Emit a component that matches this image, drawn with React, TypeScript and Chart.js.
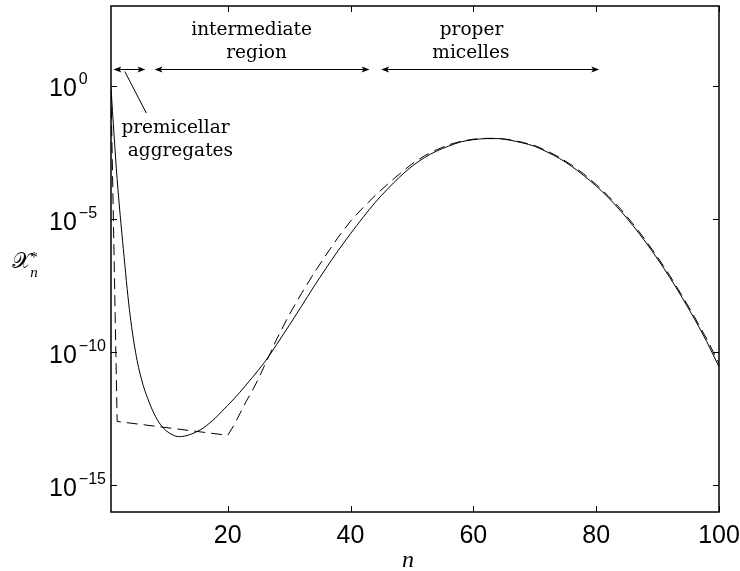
import { useEffect, useRef } from "react";
import { Chart, registerables } from "chart.js";

Chart.register(...registerables);

// ---- data (y given as log10 of X*_n) ----
const nSolid = [1, 2, 3, 4, 5, 6, 7, 8, 9, 10, 11, 12, 13, 14, 15, 16, 17, 18, 19, 20,
  22, 24, 26, 28, 30, 32, 34, 36, 38, 40, 42, 44, 46, 48, 50, 52, 54, 56, 58, 60,
  62, 64, 66, 68, 70, 72, 74, 76, 78, 80, 82, 84, 86, 88, 90, 92, 94, 96, 98, 100];
const solidLog10 = [-0.1, -3.5, -6.1, -8.4, -10.0, -11.05, -11.75, -12.3, -12.7, -12.95,
  -13.1, -13.17, -13.15, -13.08, -12.98, -12.85, -12.67, -12.47, -12.23, -12.0,
  -11.5, -10.95, -10.38, -9.7, -9.0, -8.28, -7.55, -6.85, -6.18, -5.55,
  -4.95, -4.38, -3.88, -3.42, -3.02, -2.7, -2.45, -2.26, -2.1, -2.02,
  -1.98, -1.98, -2.04, -2.14, -2.27, -2.48, -2.72, -3.02, -3.37, -3.76,
  -4.2, -4.7, -5.25, -5.85, -6.5, -7.2, -7.95, -8.75, -9.6, -10.55];

const nDashed = [1, 2, 20, 21, 22, 23, 24, 25, 26, 27, 28,
  30, 32, 34, 36, 38, 40, 42, 44, 46, 48, 50, 52, 54, 56, 58, 60,
  62, 64, 66, 68, 70, 72, 74, 76, 78, 80, 82, 84, 86, 88, 90, 92, 94, 96, 98, 100];
const dashedLog10 = [-0.2, -12.6, -13.12, -12.75, -12.3, -11.85, -11.45, -11.0, -10.5, -10.0, -9.5,
  -8.6, -7.8, -7.05, -6.35, -5.68, -5.08, -4.58, -4.12, -3.7, -3.3, -2.93, -2.63, -2.4, -2.21, -2.08, -2.0,
  -1.97, -1.97, -2.02, -2.12, -2.24, -2.44, -2.68, -2.97, -3.31, -3.7, -4.14, -4.63, -5.18, -5.78, -6.43, -7.13,
  -7.88, -8.67, -9.5, -10.42];

const xTickValues = [20, 40, 60, 80, 100];
const yTickExponents = [0, -5, -10, -15];

// annotation arrows: [n start, n end], drawn at y = 10^arrowLevelLog10
const arrowSpans = [[1.4, 6.6], [8.1, 43.1], [45.0, 80.5]];
const arrowLevelLog10 = 0.63;
const annotationTexts = ["intermediate", "region", "proper", "micelles", "premicellar", "aggregates"];
const annotationN = [23.9, 24.7, 59.7, 59.6, 11.5, 12.3];
const annotationLog10 = [1.9, 1.04, 1.9, 1.04, -1.77, -2.65];
const leaderLine = [[3.25, 0.54], [6.75, -1.02]];

const toPoints = (ns: number[], logs: number[]) => ns.map((n, i) => ({ x: n, y: Math.pow(10, logs[i]) }));

const overlay = {
  id: "overlay",
  afterDatasetsDraw(chart: any) {
    const { ctx, chartArea: a, scales } = chart;
    const xs = scales.x;
    const ys = scales.y;
    const X = (v: number) => xs.getPixelForValue(v);
    const Y = (lg: number) => ys.getPixelForValue(Math.pow(10, lg));
    ctx.save();
    ctx.strokeStyle = "#000";
    ctx.fillStyle = "#000";

    // frame
    ctx.lineWidth = 1.5;
    ctx.strokeRect(a.left, a.top, a.right - a.left, a.bottom - a.top);

    // inward ticks on all four sides
    ctx.lineWidth = 1;
    const tl = 6;
    ctx.beginPath();
    for (const v of xTickValues) {
      const px = Math.round(X(v)) + 0.5;
      ctx.moveTo(px, a.bottom); ctx.lineTo(px, a.bottom - tl);
      ctx.moveTo(px, a.top); ctx.lineTo(px, a.top + tl);
    }
    for (const e of yTickExponents) {
      const py = Math.round(Y(e)) + 0.5;
      ctx.moveTo(a.left, py); ctx.lineTo(a.left + tl, py);
      ctx.moveTo(a.right, py); ctx.lineTo(a.right - tl, py);
    }
    ctx.stroke();

    // x tick labels
    ctx.font = "25px 'Liberation Sans', Arial, sans-serif";
    ctx.textAlign = "center";
    ctx.textBaseline = "alphabetic";
    for (const v of xTickValues) ctx.fillText(String(v), X(v), a.bottom + 31);

    // y tick labels 10^e
    for (const e of yTickExponents) {
      const py = Y(e);
      ctx.textAlign = "left";
      ctx.font = "25px 'Liberation Sans', Arial, sans-serif";
      ctx.fillText("10", 49, py + 10.5);
      const w = ctx.measureText("10").width;
      ctx.font = "16px 'Liberation Sans', Arial, sans-serif";
      ctx.fillText(e === 0 ? "0" : "\u2212" + Math.abs(e), 49 + w + 2, py - 1.5);
    }

    // axis titles
    ctx.textAlign = "center";
    ctx.font = "italic 24px 'Liberation Serif', 'DejaVu Serif', serif";
    ctx.fillText("n", 408, 567);
    ctx.font = "22px 'DejaVu Serif', 'DejaVu Sans', serif";
    ctx.fillText("\u{1D4B3}", 21, 268);
    ctx.font = "italic 15px 'Liberation Serif', serif";
    ctx.fillText("n", 34, 277);
    ctx.font = "15px 'Liberation Serif', serif";
    ctx.fillText("*", 34, 262);

    // double arrows
    const yA = Math.round(Y(arrowLevelLog10)) + 0.5;
    const head = (x: number, dir: number) => {
      ctx.beginPath();
      ctx.moveTo(x, yA);
      ctx.lineTo(x + dir * 8, yA - 3);
      ctx.lineTo(x + dir * 6, yA);
      ctx.lineTo(x + dir * 8, yA + 3);
      ctx.closePath();
      ctx.fill();
    };
    ctx.lineWidth = 1;
    for (const [s, e] of arrowSpans) {
      const x0 = X(s), x1 = X(e);
      ctx.beginPath();
      ctx.moveTo(x0 + 2, yA); ctx.lineTo(x1 - 2, yA);
      ctx.stroke();
      head(x0, 1);
      head(x1, -1);
    }

    // leader line for premicellar aggregates
    ctx.beginPath();
    ctx.moveTo(X(leaderLine[0][0]), Y(leaderLine[0][1]));
    ctx.lineTo(X(leaderLine[1][0]), Y(leaderLine[1][1]));
    ctx.stroke();

    // annotation texts
    ctx.font = "18.5px 'DejaVu Serif', serif";
    ctx.textAlign = "center";
    annotationTexts.forEach((t, i) => {
      ctx.fillText(t, X(annotationN[i]), Y(annotationLog10[i]));
    });

    ctx.restore();
  },
};

export default function App() {
  const ref = useRef<HTMLCanvasElement>(null);
  useEffect(() => {
    const chart = new Chart(ref.current as HTMLCanvasElement, {
      type: "line",
      data: {
        datasets: [
          {
            label: "solid",
            data: toPoints(nSolid, solidLog10),
            borderColor: "#000",
            borderWidth: 1,
            pointRadius: 0,
            cubicInterpolationMode: "monotone",
            fill: false,
          },
          {
            label: "dashed",
            data: toPoints(nDashed, dashedLog10),
            borderColor: "#000",
            borderWidth: 1,
            borderDash: [11, 6],
            pointRadius: 0,
            tension: 0,
            fill: false,
          },
        ],
      },
      options: {
        animation: false,
        responsive: false,
        events: [],
        layout: { padding: { left: 111, right: 21, top: 6, bottom: 59 } },
        scales: {
          x: { type: "linear", min: 1, max: 100, display: false },
          y: { type: "logarithmic", min: 1e-16, max: 1e3, display: false },
        },
        plugins: { legend: { display: false }, tooltip: { enabled: false } },
      },
      plugins: [overlay],
    } as any);
    return () => chart.destroy();
  }, []);
  return (
    <div style={{ position: "absolute", left: 0, top: 0, width: 740, height: 571, background: "#fff" }}>
      <canvas ref={ref} width={740} height={571} style={{ display: "block" }} />
    </div>
  );
}
